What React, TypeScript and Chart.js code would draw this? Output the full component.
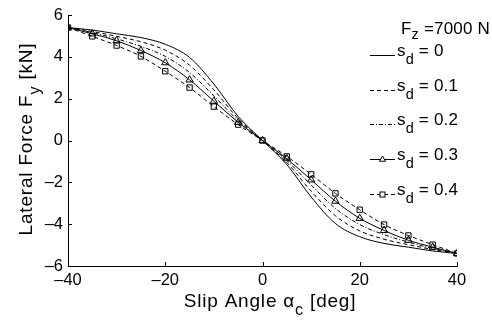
import React, { useEffect, useRef } from "react";
import { Chart, registerables } from "chart.js";
Chart.register(...registerables);

const slipAngles = [-40, -35, -30, -25, -20, -15, -10, -5, 0, 5, 10, 15, 20, 25, 30, 35, 40];
const fySd0 = [5.4, 5.28, 5.1, 4.92, 4.6, 3.97, 2.7, 1.15, 0, -1.15, -2.7, -3.97, -4.6, -4.92, -5.1, -5.28, -5.4];
const fySd01 = [5.4, 5.21, 4.98, 4.72, 4.32, 3.6, 2.42, 1.05, 0, -1.05, -2.42, -3.6, -4.32, -4.72, -4.98, -5.21, -5.4];
const fySd02 = [5.4, 5.16, 4.86, 4.5, 4.02, 3.25, 2.13, 0.95, 0, -0.95, -2.13, -3.25, -4.02, -4.5, -4.86, -5.16, -5.4];
const fySd03 = [5.4, 5.1, 4.77, 4.3, 3.72, 2.9, 1.88, 0.87, 0, -0.87, -1.88, -2.9, -3.72, -4.3, -4.77, -5.1, -5.4];
const fySd04 = [5.4, 4.98, 4.54, 4.02, 3.31, 2.53, 1.62, 0.76, 0, -0.76, -1.62, -2.53, -3.31, -4.02, -4.54, -4.98, -5.4];

const xTicks = [-40, -20, 0, 20, 40];
const yTicks = [-6, -4, -2, 0, 2, 4, 6];
const sdLabels = ["0", "0.1", "0.2", "0.3", "0.4"];
const fzLabel = "7000 N";

const FONT = '"Liberation Sans", Arial, Helvetica, sans-serif';

type Seg = { t: string; sub?: boolean };

function drawRich(
  ctx: CanvasRenderingContext2D,
  segs: Seg[],
  x: number,
  y: number,
  size: number,
  align: "left" | "center",
  spacing = 0,
  subDrop = 0.42
) {
  const subSize = size * 0.85;
  (ctx as any).letterSpacing = spacing + "px";
  const widths = segs.map((s) => {
    ctx.font = `${s.sub ? subSize : size}px ${FONT}`;
    return ctx.measureText(s.t).width;
  });
  const total = widths.reduce((a, b) => a + b, 0);
  let cx = align === "center" ? x - total / 2 : x;
  ctx.textAlign = "left";
  ctx.textBaseline = "alphabetic";
  segs.forEach((s, i) => {
    ctx.font = `${s.sub ? subSize : size}px ${FONT}`;
    ctx.fillText(s.t, cx, s.sub ? y + size * subDrop : y);
    cx += widths[i];
  });
  (ctx as any).letterSpacing = "0px";
}

const dashes: number[][] = [[], [4, 3], [4, 2, 1, 2], [], [4, 3]];
const styles: (string | false)[] = [false, false, false, "triangle", "rect"];

const fmt = (v: number) => (v < 0 ? "\u2013" + Math.abs(v) : String(v));

const decorPlugin = {
  id: "decor",
  afterDraw(chart: any) {
    const ctx: CanvasRenderingContext2D = chart.ctx;
    const { left, bottom } = chart.chartArea;
    const xs = chart.scales.x;
    const ys = chart.scales.y;
    ctx.save();
    ctx.strokeStyle = "#000";
    ctx.fillStyle = "#000";
    ctx.lineWidth = 1;
    ctx.setLineDash([]);
    // inward ticks
    xTicks.forEach((v) => {
      const px = Math.round(xs.getPixelForValue(v)) + 0.5;
      ctx.beginPath();
      ctx.moveTo(px, bottom);
      ctx.lineTo(px, bottom - 4);
      ctx.stroke();
    });
    yTicks.forEach((v) => {
      const py = Math.round(ys.getPixelForValue(v)) + 0.5;
      ctx.beginPath();
      ctx.moveTo(left, py);
      ctx.lineTo(left + 4, py);
      ctx.stroke();
    });
    // axis titles
    drawRich(ctx, [{ t: "Slip Angle \u03b1" }, { t: "c", sub: true }, { t: " [deg]" }], 270, 307, 19, "center", 0.8);
    ctx.save();
    ctx.translate(32, 139);
    ctx.rotate(-Math.PI / 2);
    drawRich(ctx, [{ t: "Lateral Force F" }, { t: "y", sub: true }, { t: " [kN]" }], 0, 0, 19, "center", 0.8);
    ctx.restore();
    // legend
    drawRich(ctx, [{ t: "F" }, { t: "z", sub: true }, { t: " =" + fzLabel }], 401, 34, 17, "left", 0.2, 0.3);
    sdLabels.forEach((lab, i) => {
      const ly = Math.round(55 + 34.7 * i) + 0.5;
      ctx.setLineDash(dashes[i]);
      ctx.beginPath();
      ctx.moveTo(370, ly);
      ctx.lineTo(395, ly);
      ctx.stroke();
      ctx.setLineDash([]);
      if (styles[i] === "triangle") {
        const r = 3.5;
        ctx.fillStyle = "#fff";
        ctx.beginPath();
        ctx.moveTo(382.5, ly - r);
        ctx.lineTo(382.5 + r * 0.866, ly + r * 0.5);
        ctx.lineTo(382.5 - r * 0.866, ly + r * 0.5);
        ctx.closePath();
        ctx.fill();
        ctx.stroke();
      } else if (styles[i] === "rect") {
        ctx.fillStyle = "#fff";
        ctx.fillRect(380, ly - 2.5, 5, 5);
        ctx.strokeRect(380, ly - 2.5, 5, 5);
      }
      ctx.fillStyle = "#000";
      drawRich(ctx, [{ t: "s" }, { t: "d", sub: true }, { t: " = " + lab }], 397, ly, 17, "left", 0.2, 0.5);
    });
    ctx.restore();
  },
};

export default function App() {
  const ref = useRef<HTMLCanvasElement | null>(null);
  useEffect(() => {
    const series = [fySd0, fySd01, fySd02, fySd03, fySd04];
    const chart = new Chart(ref.current as HTMLCanvasElement, {
      type: "line",
      data: {
        datasets: series.map((s, i) => ({
          label: "s_d = " + sdLabels[i],
          data: slipAngles.map((a, j) => ({ x: a, y: s[j] })),
          borderColor: "#000",
          borderWidth: 1,
          borderDash: dashes[i],
          backgroundColor: "#fff",
          pointStyle: (styles[i] || "circle") as any,
          pointRadius: styles[i] ? (styles[i] === "rect" ? 3.8 : 4.2) : 0,
          pointBorderColor: "#000",
          pointBackgroundColor: "rgba(255,255,255,0)",
          pointBorderWidth: 1,
          cubicInterpolationMode: "monotone" as const,
          fill: false,
        })),
      },
      options: {
        animation: false,
        responsive: false,
        maintainAspectRatio: false,
        layout: { padding: { top: 15, right: 35, left: 0, bottom: 0 } },
        plugins: { legend: { display: false }, tooltip: { enabled: false } },
        scales: {
          x: {
            type: "linear",
            min: -40,
            max: 40,
            afterFit: (s: any) => { s.height = 58; },
            afterBuildTicks: (s: any) => { s.ticks = xTicks.map((v) => ({ value: v })); },
            grid: { display: false, drawTicks: false },
            border: { display: true, color: "#000", width: 1 },
            ticks: { color: "#000", font: { size: 16.5, family: FONT }, padding: 5, autoSkip: false, maxRotation: 0, callback: (v: any) => fmt(Number(v)) },
          },
          y: {
            type: "linear",
            min: -6,
            max: 6,
            afterFit: (s: any) => { s.width = 68; },
            afterBuildTicks: (s: any) => { s.ticks = yTicks.map((v) => ({ value: v })); },
            grid: { display: false, drawTicks: false },
            border: { display: true, color: "#000", width: 1 },
            ticks: { color: "#000", font: { size: 16.5, family: FONT }, padding: 5, autoSkip: false, callback: (v: any) => fmt(Number(v)) },
          },
        },
      },
      plugins: [decorPlugin],
    });
    return () => chart.destroy();
  }, []);
  return (
    <div style={{ position: "fixed", left: 0, top: 0, width: 492, height: 324, background: "#fff" }}>
      <canvas ref={ref} width={492} height={324} style={{ width: 492, height: 324, display: "block" }} />
    </div>
  );
}
